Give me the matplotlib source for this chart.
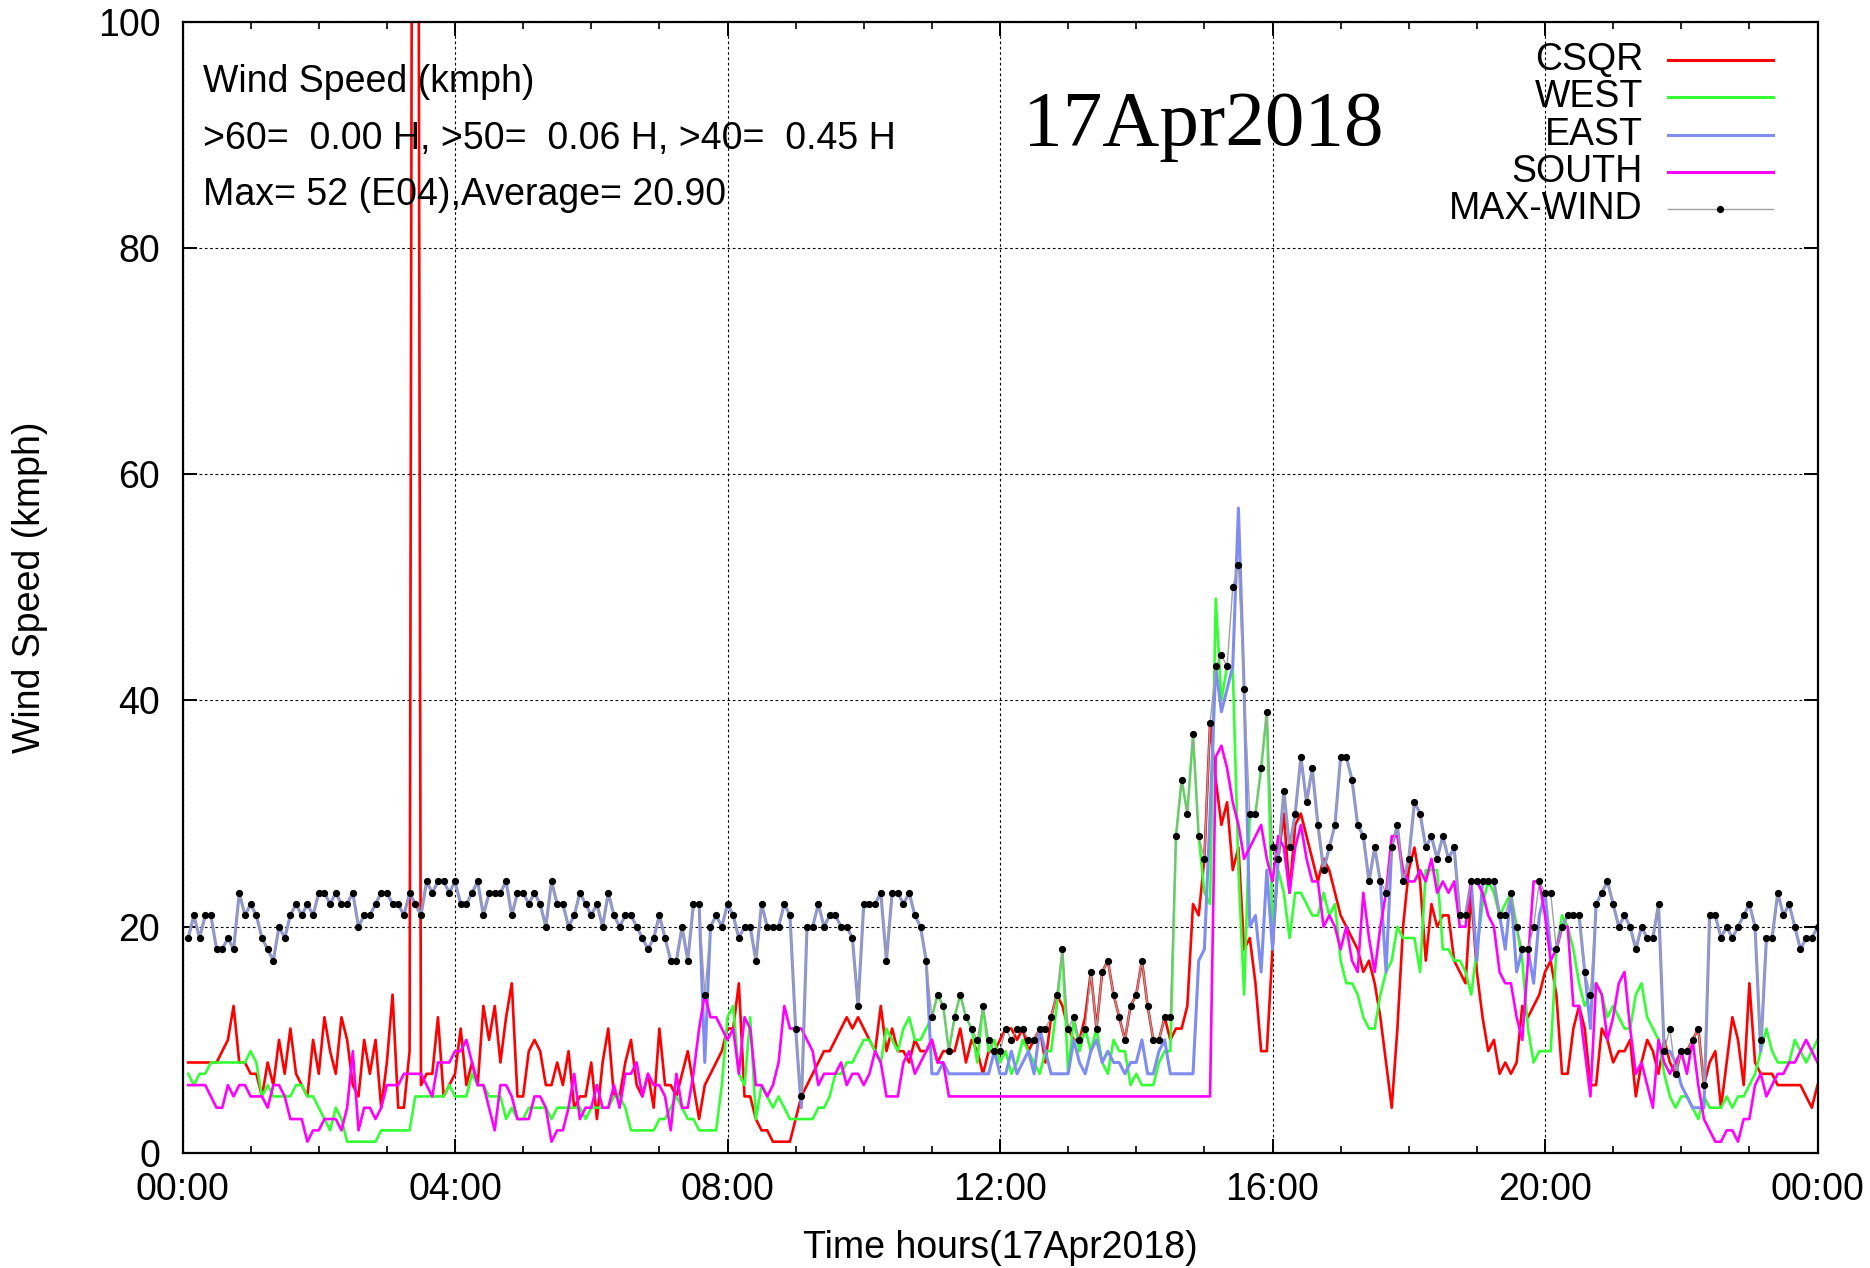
import matplotlib
matplotlib.use('Agg')
import matplotlib.pyplot as plt
import numpy as np
from matplotlib.lines import Line2D

plt.rcParams['font.family'] = ['Liberation Sans', 'DejaVu Sans']

# wind speed (kmph), one value every 5 minutes from 00:05 to 24:00
# each row below = 3 hours (36 samples)
csqr = [
    8, 8, 8, 8, 8, 8, 9, 10, 13, 8, 8, 7, 7, 5, 8, 6, 10, 7, 11, 7, 6, 5, 10, 7, 12, 9, 7, 12, 10, 6, 5, 10, 7, 10, 4, 8,
    14, 4, 4, 9, 255, 6, 7, 7, 12, 5, 6, 7, 11, 6, 8, 6, 13, 10, 13, 8, 12, 15, 5, 5, 9, 10, 9, 6, 6, 8, 6, 9, 4, 5, 5, 8,
    3, 8, 11, 5, 5, 8, 10, 6, 5, 7, 4, 11, 6, 6, 5, 7, 9, 6, 3, 6, 7, 8, 9, 11, 11, 15, 5, 5, 3, 2, 2, 1, 1, 1, 1, 3,
    5, 6, 7, 8, 9, 9, 10, 11, 12, 11, 12, 11, 10, 9, 13, 9, 11, 9, 9, 8, 10, 9, 9, 10, 8, 9, 9, 9, 11, 8, 10, 9, 7, 9, 9, 10,
    11, 11, 10, 11, 9, 10, 11, 8, 12, 14, 13, 11, 10, 10, 12, 16, 11, 16, 17, 14, 12, 10, 13, 14, 17, 13, 10, 10, 12, 10, 11, 11, 13, 22, 21, 26,
    38, 33, 29, 31, 25, 27, 18, 19, 15, 9, 9, 18, 26, 30, 23, 29, 30, 28, 26, 24, 26, 25, 23, 21, 20, 19, 18, 16, 17, 15, 12, 8, 4, 11, 20, 25,
    27, 24, 17, 22, 20, 21, 21, 17, 16, 15, 23, 16, 12, 9, 10, 7, 8, 7, 8, 13, 12, 13, 14, 16, 17, 14, 7, 7, 11, 13, 11, 6, 6, 11, 10, 8,
    9, 9, 10, 5, 8, 10, 9, 7, 10, 8, 7, 9, 9, 10, 11, 6, 8, 9, 4, 8, 12, 10, 6, 15, 8, 7, 7, 7, 6, 6, 6, 6, 6, 5, 4, 6,
]
west = [
    7, 6, 7, 7, 8, 8, 8, 8, 8, 8, 8, 9, 8, 5, 6, 5, 5, 5, 5, 6, 6, 5, 5, 4, 3, 2, 4, 3, 1, 1, 1, 1, 1, 1, 2, 2,
    2, 2, 2, 2, 5, 5, 5, 5, 5, 5, 6, 5, 5, 5, 7, 6, 6, 5, 5, 5, 3, 4, 3, 3, 4, 4, 4, 4, 3, 4, 4, 4, 4, 4, 3, 4,
    4, 4, 4, 5, 5, 4, 2, 2, 2, 2, 2, 3, 3, 4, 5, 4, 3, 3, 2, 2, 2, 2, 6, 12, 13, 7, 6, 12, 3, 6, 5, 4, 5, 4, 3, 3,
    3, 3, 3, 4, 4, 5, 7, 7, 8, 8, 9, 10, 10, 9, 8, 11, 10, 9, 11, 12, 10, 10, 11, 12, 14, 13, 9, 12, 14, 12, 11, 8, 13, 9, 10, 8,
    9, 7, 8, 10, 9, 8, 7, 9, 9, 13, 18, 7, 12, 9, 11, 9, 11, 8, 7, 10, 9, 9, 6, 7, 6, 6, 6, 8, 9, 9, 28, 33, 30, 37, 28, 23,
    22, 49, 40, 43, 43, 25, 14, 30, 30, 34, 39, 20, 25, 23, 19, 23, 23, 22, 21, 21, 23, 21, 22, 17, 15, 15, 14, 12, 11, 11, 14, 16, 17, 20, 19, 19,
    19, 16, 25, 25, 25, 18, 18, 17, 17, 16, 14, 18, 22, 24, 23, 21, 22, 23, 20, 17, 11, 8, 9, 9, 9, 18, 21, 20, 18, 15, 13, 14, 15, 14, 12, 13,
    12, 11, 11, 14, 15, 12, 11, 10, 7, 5, 4, 5, 5, 4, 3, 5, 4, 4, 4, 5, 4, 5, 5, 6, 7, 9, 11, 9, 8, 8, 8, 10, 9, 8, 9, 10,
]
east = [
    19, 21, 19, 21, 21, 18, 18, 19, 18, 23, 21, 22, 21, 19, 18, 17, 20, 19, 21, 22, 21, 22, 21, 23, 23, 22, 23, 22, 22, 23, 20, 21, 21, 22, 23, 23,
    22, 22, 21, 23, 22, 21, 24, 23, 24, 24, 23, 24, 22, 22, 23, 24, 21, 23, 23, 23, 24, 21, 23, 23, 22, 23, 22, 20, 24, 22, 22, 20, 21, 23, 22, 21,
    22, 20, 23, 21, 20, 21, 21, 20, 19, 18, 19, 21, 19, 17, 17, 20, 17, 22, 22, 8, 20, 21, 20, 22, 21, 19, 20, 20, 17, 22, 20, 20, 20, 22, 21, 11,
    4, 20, 20, 22, 20, 21, 21, 20, 20, 19, 13, 22, 22, 22, 23, 17, 23, 23, 22, 23, 21, 20, 17, 7, 7, 8, 7, 7, 7, 7, 7, 7, 7, 7, 9, 7,
    7, 9, 7, 8, 9, 7, 11, 9, 7, 7, 7, 7, 10, 8, 7, 9, 10, 8, 9, 8, 8, 7, 8, 8, 10, 7, 7, 9, 10, 7, 7, 7, 7, 7, 17, 18,
    30, 43, 39, 41, 43, 57, 41, 20, 21, 16, 25, 18, 26, 32, 27, 30, 35, 31, 34, 29, 25, 27, 29, 35, 35, 33, 29, 28, 24, 27, 24, 16, 27, 29, 24, 26,
    31, 30, 27, 28, 26, 28, 26, 27, 21, 21, 24, 17, 24, 24, 24, 21, 18, 23, 16, 18, 18, 15, 21, 23, 18, 18, 20, 21, 21, 21, 16, 11, 22, 23, 24, 22,
    20, 21, 20, 18, 20, 19, 19, 22, 9, 9, 8, 6, 5, 4, 4, 4, 21, 21, 19, 20, 19, 20, 21, 22, 20, 9, 19, 19, 23, 21, 22, 20, 18, 19, 19, 20,
]
south = [
    6, 6, 6, 6, 5, 4, 4, 6, 5, 6, 6, 5, 5, 5, 4, 6, 6, 5, 3, 3, 3, 1, 2, 2, 3, 3, 3, 2, 4, 9, 2, 4, 4, 3, 4, 6,
    6, 6, 7, 7, 7, 7, 6, 5, 8, 8, 8, 9, 9, 10, 8, 6, 6, 4, 2, 6, 6, 5, 3, 3, 3, 5, 5, 4, 1, 2, 2, 4, 7, 3, 4, 4,
    6, 4, 4, 6, 4, 7, 7, 8, 5, 7, 6, 6, 5, 2, 7, 4, 4, 7, 11, 14, 12, 12, 11, 10, 11, 7, 12, 11, 6, 6, 5, 6, 8, 13, 11, 11,
    11, 10, 9, 6, 7, 7, 7, 8, 6, 7, 7, 6, 7, 9, 8, 5, 5, 5, 8, 9, 7, 8, 9, 10, 8, 8, 5, 5, 5, 5, 5, 5, 5, 5, 5, 5,
    5, 5, 5, 5, 5, 5, 5, 5, 5, 5, 5, 5, 5, 5, 5, 5, 5, 5, 5, 5, 5, 5, 5, 5, 5, 5, 5, 5, 5, 5, 5, 5, 5, 5, 5, 5,
    5, 35, 36, 34, 31, 29, 26, 27, 28, 29, 26, 24, 28, 27, 23, 27, 29, 26, 24, 24, 20, 21, 20, 18, 20, 17, 16, 23, 19, 16, 20, 23, 28, 28, 25, 24,
    24, 25, 24, 26, 23, 24, 23, 24, 20, 20, 24, 24, 23, 21, 20, 16, 15, 15, 12, 10, 17, 24, 24, 21, 17, 18, 20, 20, 13, 13, 9, 5, 15, 14, 10, 12,
    15, 16, 11, 7, 8, 6, 4, 10, 8, 7, 8, 9, 7, 10, 6, 3, 2, 1, 1, 2, 2, 1, 3, 3, 6, 7, 5, 6, 7, 7, 8, 8, 9, 10, 9, 8,
]
max_wind = [
    19, 21, 19, 21, 21, 18, 18, 19, 18, 23, 21, 22, 21, 19, 18, 17, 20, 19, 21, 22, 21, 22, 21, 23, 23, 22, 23, 22, 22, 23, 20, 21, 21, 22, 23, 23,
    22, 22, 21, 23, 22, 21, 24, 23, 24, 24, 23, 24, 22, 22, 23, 24, 21, 23, 23, 23, 24, 21, 23, 23, 22, 23, 22, 20, 24, 22, 22, 20, 21, 23, 22, 21,
    22, 20, 23, 21, 20, 21, 21, 20, 19, 18, 19, 21, 19, 17, 17, 20, 17, 22, 22, 14, 20, 21, 20, 22, 21, 19, 20, 20, 17, 22, 20, 20, 20, 22, 21, 11,
    5, 20, 20, 22, 20, 21, 21, 20, 20, 19, 13, 22, 22, 22, 23, 17, 23, 23, 22, 23, 21, 20, 17, 12, 14, 13, 9, 12, 14, 12, 11, 10, 13, 10, 9, 9,
    11, 10, 11, 11, 10, 10, 11, 11, 12, 14, 18, 11, 12, 10, 11, 16, 11, 16, 17, 14, 12, 10, 13, 14, 17, 13, 10, 10, 12, 12, 28, 33, 30, 37, 28, 26,
    38, 43, 44, 43, 50, 52, 41, 30, 30, 34, 39, 27, 26, 32, 27, 30, 35, 31, 34, 29, 25, 27, 29, 35, 35, 33, 29, 28, 24, 27, 24, 23, 27, 29, 24, 26,
    31, 30, 27, 28, 26, 28, 26, 27, 21, 21, 24, 24, 24, 24, 24, 21, 21, 23, 20, 18, 18, 20, 24, 23, 23, 18, 20, 21, 21, 21, 16, 14, 22, 23, 24, 22,
    20, 21, 20, 18, 20, 19, 19, 22, 9, 11, 7, 9, 9, 10, 11, 6, 21, 21, 19, 20, 19, 20, 21, 22, 20, 10, 19, 19, 23, 21, 22, 20, 18, 19, 19, 20,
]

names = ['CSQR', 'WEST', 'EAST', 'SOUTH', 'MAX-WIND']
colors = ['#ff0000', '#33ff33', '#7f8cf0', '#ff00ff', '#a0a0a0']
xtick_labels = ['00:00', '04:00', '08:00', '12:00', '16:00', '20:00', '00:00']
info_lines = ['Wind Speed (kmph)',
              '>60=  0.00 H, >50=  0.06 H, >40=  0.45 H',
              'Max= 52 (E04),Average= 20.90']
day = '17Apr2018'

hours = np.arange(1, len(max_wind) + 1) * 5 / 60.0

W, H = 1870, 1268
fig = plt.figure(figsize=(W / 100, H / 100), dpi=100)
ax = fig.add_axes([182.5 / W, 115 / H, 1635 / W, 1131.5 / H])

fs = 27
ax.plot(hours, csqr, color=colors[0], lw=1.9)
ax.plot(hours, west, color=colors[1], lw=1.9)
ax.plot(hours, east, color=colors[2], lw=2.2)
ax.plot(hours, south, color=colors[3], lw=1.9)
ax.plot(hours, max_wind, color=colors[4], lw=1.0, marker='o', ms=4.2,
        mfc='black', mec='black')

ax.set_xlim(0, 24)
ax.set_ylim(0, 100)
ax.set_xticks(np.arange(0, 25, 4))
ax.set_xticklabels(xtick_labels)
ax.set_xticks(np.arange(0, 25, 1), minor=True)
ax.set_yticks(np.arange(0, 101, 20))
ax.tick_params(which='major', direction='in', length=10, width=1.4,
               top=True, right=True, labelsize=fs)
ax.tick_params(axis='x', which='minor', direction='in', length=5, width=1.2, top=True)
ax.tick_params(axis='x', which='major', pad=14)
ax.tick_params(axis='y', which='major', pad=16)
ax.grid(True, which='major', color='black', lw=0.8, linestyle=(0, (2.4, 2.4)))
for s in ax.spines.values():
    s.set_linewidth(1.6)

fig.text(30 / W, 1 - 587 / H, 'Wind Speed (kmph)', rotation=90,
         ha='center', va='center', fontsize=fs)
fig.text(1000 / W, 1 - 1248 / H, 'Time hours(' + day + ')',
         ha='center', va='center', fontsize=fs)

for i, line in enumerate(info_lines):
    fig.text(203 / W, 1 - [82, 139, 195][i] / H, line, ha='left', va='center', fontsize=fs)

fig.text(1023 / W, 1 - 126 / H, day, family='Liberation Serif', fontsize=57,
         ha='left', va='center')

# legend (gnuplot style: label then sample line)
for i, (name, c) in enumerate(zip(names, colors)):
    y = 1 - (60 + 37.3 * i) / H
    fig.text(1643 / W, y, name, ha='right', va='center', fontsize=fs)
    fig.add_artist(Line2D([1668 / W, 1773 / W], [y, y], color=c,
                          lw=1.0 if name == 'MAX-WIND' else 2.2))
    if name == 'MAX-WIND':
        fig.add_artist(Line2D([1720 / W], [y], marker='o', ms=4.2, color='black', lw=0))

fig.savefig('out.png', dpi=100)
